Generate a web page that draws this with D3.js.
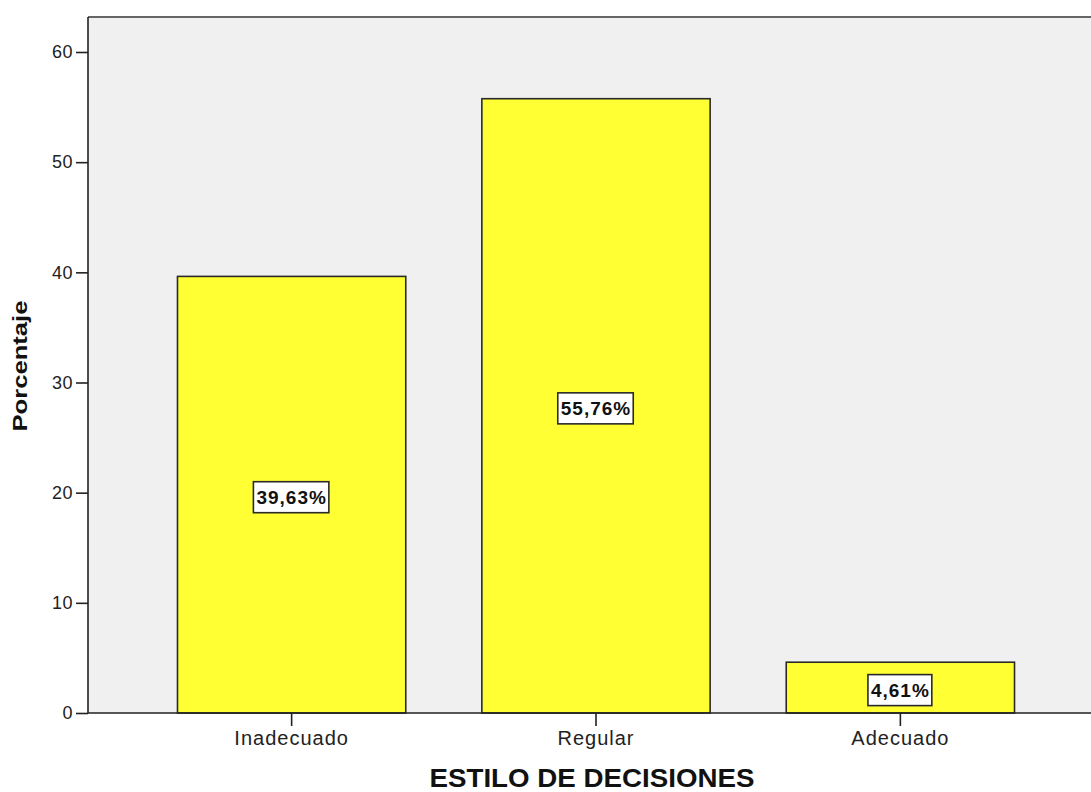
<!DOCTYPE html>
<html>
<head>
<meta charset="utf-8">
<script src="https://cdn.jsdelivr.net/npm/d3@7"></script>
<style>
  html, body { margin: 0; padding: 0; background: #ffffff; }
  svg { display: block; }
</style>
</head>
<body>
<svg id="chart" width="1091" height="792"></svg>
<script>
// Distribution of decision styles (percent of respondents)
const categories = ["Inadecuado", "Regular", "Adecuado"];
const percentages = [39.63, 55.76, 4.61];
const yTicks = [0, 10, 20, 30, 40, 50, 60];

const svg = d3.select("#chart");
const plot = { left: 88, top: 17, bottom: 713, right: 1091 };
const FONT = "Liberation Sans, Arial, sans-serif";

const x = d3.scaleBand()
  .domain(categories)
  .range([plot.left, 1104])
  .paddingInner(0.25)
  .paddingOuter(0.294);

const y = d3.scaleLinear()
  .domain([0, 60])
  .range([plot.bottom, 52]);

// plot background
svg.append("rect")
  .attr("x", plot.left).attr("y", plot.top)
  .attr("width", plot.right - plot.left).attr("height", plot.bottom - plot.top)
  .attr("fill", "#f0f0f0");

// top frame line
svg.append("line")
  .attr("x1", plot.left).attr("x2", plot.right)
  .attr("y1", plot.top).attr("y2", plot.top)
  .attr("stroke", "#666").attr("stroke-width", 2);

// bars
svg.append("g").selectAll("rect")
  .data(categories)
  .join("rect")
  .attr("x", d => x(d))
  .attr("y", (d, i) => y(percentages[i]))
  .attr("width", x.bandwidth())
  .attr("height", (d, i) => y(0) - y(percentages[i]))
  .attr("fill", "#ffff33")
  .attr("stroke", "#2a2a2a")
  .attr("stroke-width", 1.6);

// value labels in boxed callouts at bar mid-height
const fmt = v => v.toFixed(2).replace(".", ",") + "%";
const labels = svg.append("g").selectAll("g")
  .data(categories)
  .join("g")
  .attr("transform", (d, i) => `translate(${x(d) + x.bandwidth() / 2},${(y(0) + y(percentages[i])) / 2})`);

labels.append("text")
  .attr("text-anchor", "middle")
  .attr("y", 9)
  .attr("font-family", FONT)
  .attr("font-weight", "bold")
  .attr("font-size", 19)
  .attr("letter-spacing", 1)
  .attr("fill", "#111")
  .text((d, i) => fmt(percentages[i]));

labels.insert("rect", "text")
  .attr("x", -40).attr("y", -13)
  .attr("width", 80).attr("height", 31)
  .attr("fill", "#ffffff")
  .attr("stroke", "#2a2a2a")
  .attr("stroke-width", 1.6)
  .each(function () {
    const t = d3.select(this.parentNode).select("text").node().getBBox();
    d3.select(this)
      .attr("x", t.x - 3).attr("width", t.width + 5);
  });

// y axis
const yAxis = svg.append("g")
  .attr("transform", `translate(${plot.left},0)`)
  .call(d3.axisLeft(y).tickValues(yTicks).tickSize(12).tickPadding(3));
yAxis.select(".domain").attr("stroke", "#222").attr("stroke-width", 1.6)
  .attr("d", `M0,${plot.top}V${plot.bottom}`);
yAxis.selectAll(".tick line").attr("stroke", "#222").attr("stroke-width", 1.6);
yAxis.selectAll(".tick text")
  .attr("font-family", FONT)
  .attr("font-size", 18).attr("letter-spacing", 0.5).attr("fill", "#222");

// x axis
const xAxis = svg.append("g")
  .attr("transform", `translate(0,${plot.bottom})`)
  .call(d3.axisBottom(x).tickSize(13).tickPadding(5));
xAxis.select(".domain").attr("stroke", "#222").attr("stroke-width", 1.6)
  .attr("d", `M${plot.left},0H${plot.right}`);
xAxis.selectAll(".tick line").attr("stroke", "#222").attr("stroke-width", 1.6);
xAxis.selectAll(".tick text")
  .attr("font-family", FONT)
  .attr("font-size", 20).attr("letter-spacing", 1).attr("fill", "#222");

// axis titles
svg.append("text")
  .attr("x", 592).attr("y", 787)
  .attr("text-anchor", "middle")
  .attr("font-family", FONT)
  .attr("font-weight", "bold").attr("font-size", 25)
  .attr("textLength", 325).attr("lengthAdjust", "spacingAndGlyphs")
  .attr("fill", "#111")
  .text("ESTILO DE DECISIONES");

svg.append("text")
  .attr("transform", "translate(27,366) rotate(-90)")
  .attr("text-anchor", "middle")
  .attr("font-family", FONT)
  .attr("font-weight", "bold").attr("font-size", 21)
  .attr("textLength", 131).attr("lengthAdjust", "spacingAndGlyphs")
  .attr("fill", "#111")
  .text("Porcentaje");
</script>
</body>
</html>
